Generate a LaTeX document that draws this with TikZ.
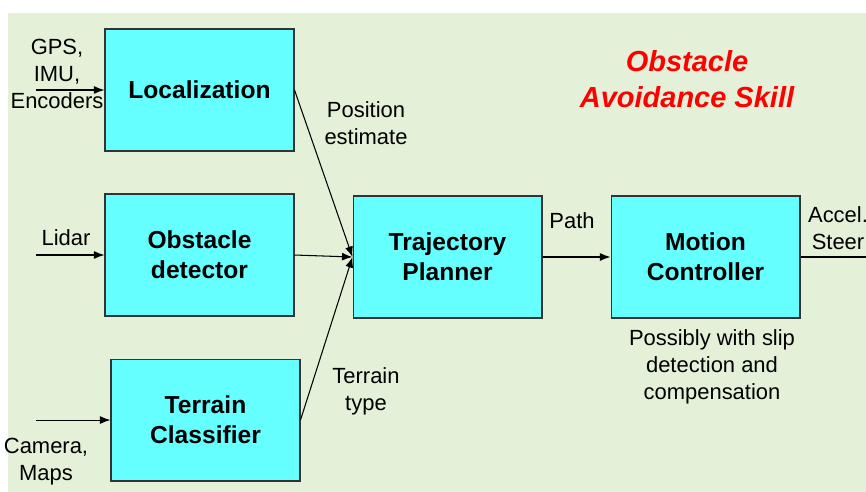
\documentclass[tikz,border=0pt]{standalone}
\usepackage{fontspec}
\setmainfont{Liberation Sans}
\usetikzlibrary{positioning,arrows.meta}
\definecolor{slidebg}{RGB}{228,240,216}
\definecolor{boxcyan}{RGB}{102,255,255}
\tikzset{
  block/.style={draw=black!80, fill=boxcyan, line width=0.6pt,
    minimum width=3.78cm, minimum height=2.44cm, align=center,
    font=\fontsize{14}{17}\selectfont\bfseries},
  lbl/.style={align=center, font=\fontsize{12.5}{15.3}\selectfont},
  flow/.style={-{Latex[length=6pt,width=4.5pt]}, line width=0.6pt},
}

\begin{document}
\begin{tikzpicture}[x=0.02cm,y=-0.02cm]
  \useasboundingbox (0,0) rectangle (866,492);
  \fill[slidebg] (8,13) rectangle (866,492);

  % blocks
  \node[block] (loc) at (199.5,90) {Localization};
  \node[block, below=0.84cm of loc] (obs) {Obstacle\\detector};
  \node[block, below=0.84cm of obs, xshift=0.12cm] (terr) {Terrain\\Classifier};
  \node[block, right=1.16cm of obs, yshift=-0.04cm] (traj) {Trajectory\\Planner};
  \node[block, right=1.36cm of traj] (ctrl) {Motion\\Controller};

  % free ends
  \coordinate[left=1.38cm of loc.west] (inloc);
  \coordinate[left=1.38cm of obs.west] (inobs);
  \coordinate[left=1.5cm of terr.west] (interr);
  \coordinate[right=1.4cm of ctrl.east] (outctrl);

  % labels
  \node[lbl] (gps) at (57,74) {GPS,\\IMU,\\Encoders};
  \node[lbl] (lidar) at (66,238) {Lidar};
  \node[lbl] (cam) at (46,462) {Camera,\\Maps};
  \node[lbl] (pos) at (366,123) {Position\\estimate};
  \node[lbl] (ttype) at (366,391) {Terrain\\type};
  \node[lbl] (path) at (572,221) {Path};
  \node[lbl] (cmd) at (838,228) {Accel.\\Steer};
  \node[lbl] (slip) at (712,367) {Possibly with slip\\detection and\\compensation};
  \node[align=center, text=red, font=\fontsize{16.5}{20.4}\selectfont\bfseries\itshape]
    (title) at (687,79) {Obstacle\\Avoidance Skill};

  % connectors
  \draw[flow] (inloc) -- (loc.west);
  \draw[flow] (inobs) -- (obs.west);
  \draw[flow] (interr) -- (terr.west);
  \draw[flow] (loc.east) -- (traj.west);
  \draw[flow] (obs.east) -- (traj.west);
  \draw[flow] (terr.east) -- (traj.west);
  \draw[flow] (traj) -- (ctrl);
  \draw[line width=0.6pt] (ctrl) -- (outctrl);
\end{tikzpicture}
\end{document}
